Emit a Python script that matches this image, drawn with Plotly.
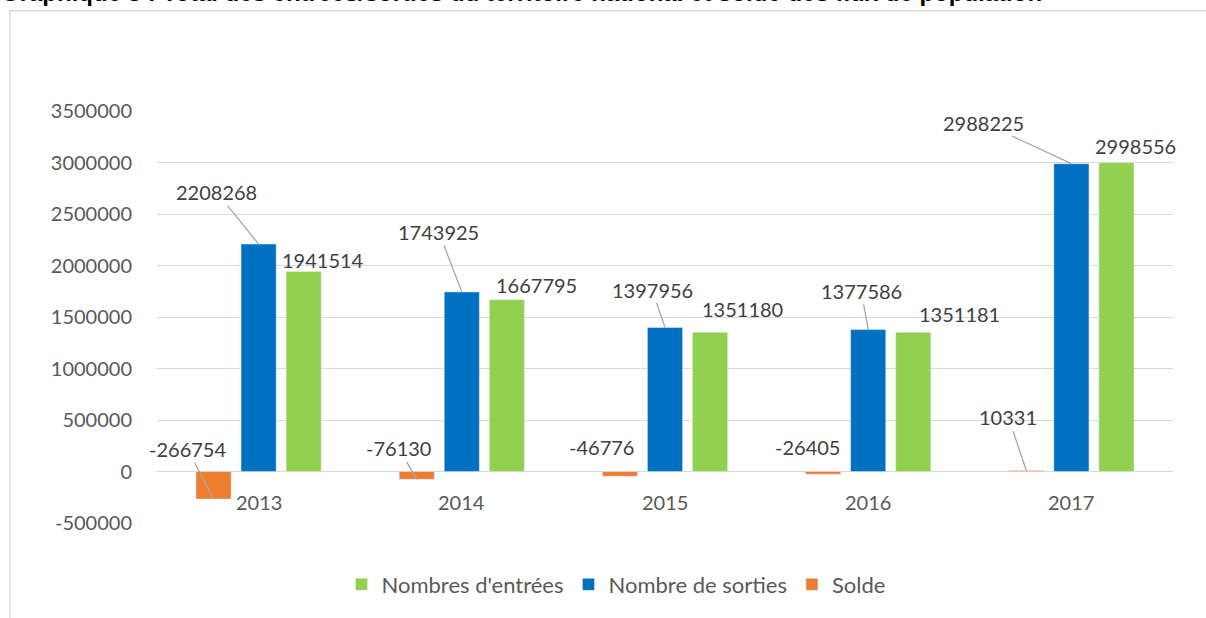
import plotly.graph_objects as go

# ---- data ----
years = ["2013", "2014", "2015", "2016", "2017"]
entrees = [1941514, 1667795, 1351180, 1351181, 2998556]
sorties = [2208268, 1743925, 1397956, 1377586, 2988225]
solde = [-266754, -76130, -46776, -26405, 10331]
y_ticks = [-500000, 0, 500000, 1000000, 1500000, 2000000, 2500000, 3000000, 3500000]
title_text = "Graphique 5 : Total des entrées/sorties du territoire national et solde des flux de population"

# ---- style ----
W, H = 1206, 618
ML, MR, MT, MB = 157, 33, 111, 92
PW, PH = W - ML - MR, H - MT - MB
BARGAP = 0.335
GROUPGAP = 0.22
OFF = (1 - BARGAP) / 3.0  # offset of a bar slot in category units

C_ORANGE = "#ED7D31"
C_BLUE = "#0070C0"
C_GREEN = "#92D050"
GRID = "#D9D9D9"
TXT = "#595959"
LBL = "#404040"
FONT = "Lato"

fig = go.Figure()
fig.add_trace(go.Bar(name="Solde", x=years, y=solde, marker_color=C_ORANGE))
fig.add_trace(go.Bar(name="Nombre de sorties", x=years, y=sorties, marker_color=C_BLUE))
fig.add_trace(go.Bar(name="Nombres d'entrées", x=years, y=entrees, marker_color=C_GREEN))

# label offsets (pixels: dx, dy from bar end to label centre) and leader line flag
label_style = {
    "solde":   [(-26, -50, True), (-18, -31, True), (-18, -29, False), (-16, -27, False), (-18, -53, True)],
    "sorties": [(-42, -52, True), (-23, -60, True), (-13, -38, True), (-7, -39, True), (-88, -41, True)],
    "entrees": [(19, -12, False), (30, -15, False), (32, -23, False), (46, -18, False), (19, -17, False)],
}
series = [("solde", solde, -OFF), ("sorties", sorties, 0.0), ("entrees", entrees, OFF)]

annotations = []
for key, vals, off in series:
    for i, v in enumerate(vals):
        dx, dy, leader = label_style[key][i]
        common = dict(x=i + off, y=v, xref="x", yref="y", text=str(v),
                      font=dict(family=FONT, size=20, color=LBL))
        if leader:
            annotations.append(dict(**common, showarrow=True, ax=dx, ay=dy,
                                    arrowhead=0, arrowwidth=1.3, arrowcolor="#A6A6A6",
                                    standoff=0, startstandoff=0))
        else:
            annotations.append(dict(**common, showarrow=False, xshift=dx, yshift=-dy,
                                    xanchor="center", yanchor="middle"))

# category labels next to the zero axis
for i, yr in enumerate(years):
    annotations.append(dict(x=i, y=0, xref="x", yref="y", text=yr, showarrow=False,
                            yshift=-30, yanchor="middle", xanchor="center",
                            font=dict(family=FONT, size=20, color=TXT)))

def px_to_paper_x(px):
    return (px - ML) / PW

def px_to_paper_y(py):
    return (MT + PH - py) / PH

# title (partially cut off at the top, as in the source)
annotations.append(dict(x=px_to_paper_x(-1), y=px_to_paper_y(7), xref="paper", yref="paper",
                        xanchor="left", yanchor="bottom", showarrow=False, text="<b>" + title_text + "</b>",
                        font=dict(family="Liberation Sans", size=24, color="#000000")))

shapes = [dict(type="rect", xref="paper", yref="paper",
               x0=px_to_paper_x(10), x1=px_to_paper_x(W + 20),
               y0=px_to_paper_y(H + 20), y1=px_to_paper_y(10),
               line=dict(color=GRID, width=1.3), fillcolor="rgba(0,0,0,0)", layer="below")]

fig.update_layout(
    width=W, height=H,
    margin=dict(l=ML, r=MR, t=MT, b=MB),
    paper_bgcolor="white", plot_bgcolor="white",
    barmode="group", bargap=BARGAP, bargroupgap=GROUPGAP,
    showlegend=True,
    legend=dict(orientation="h", traceorder="reversed", x=px_to_paper_x(616), xanchor="center",
                y=px_to_paper_y(588), yanchor="middle", itemwidth=30,
                font=dict(family=FONT, size=22, color=TXT)),
    annotations=annotations,
    shapes=shapes,
    font=dict(family=FONT, size=20, color=TXT),
)
fig.update_xaxes(type="category", showticklabels=False, showgrid=False, showline=False,
                 ticks="", range=[-0.5, 4.5])
fig.update_yaxes(range=[-500000, 3500000], tickvals=y_ticks, ticktext=[str(v) for v in y_ticks],
                 showgrid=True, gridcolor=GRID, gridwidth=1.3,
                 zeroline=True, zerolinecolor=GRID, zerolinewidth=1.3,
                 showline=False, ticks="", ticklabelstandoff=24,
                 tickfont=dict(family=FONT, size=20, color=TXT))

fig.write_html("out.html", config={"displayModeBar": False},
               post_script="document.body.style.margin='0px';")
